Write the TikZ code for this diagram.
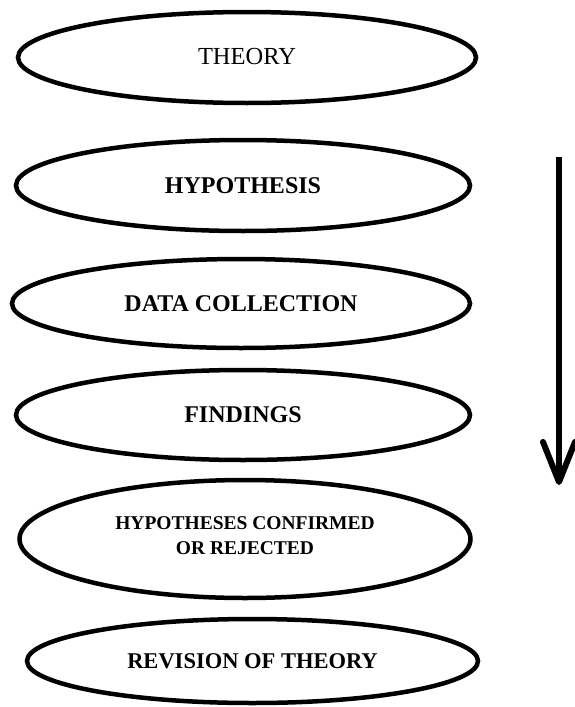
\documentclass[tikz,border=0pt]{standalone}
\usepackage{fontspec}
\setmainfont{Liberation Serif}
\usetikzlibrary{shapes.geometric,arrows.meta}
\begin{document}
\begin{tikzpicture}[x=1pt,y=-1pt,
  oval/.style={draw=black,line width=4.5pt,ellipse,inner sep=0pt,align=center},
  flowarrow/.style={line width=6pt,-{Straight Barb[length=40pt,width=32pt,line cap=round,round]}}]
\useasboundingbox (0,0) rectangle (574,707);
\node[oval,minimum width=458pt,minimum height=91pt,font=\fontsize{24.5}{28}\selectfont] (theory) at (247,57.5) {\raisebox{3pt}{THEORY}};
\node[oval,minimum width=454pt,minimum height=91pt,font=\fontsize{24}{28}\selectfont\bfseries] (hyp) at (243,185.5) {HYPOTHESIS};
\node[oval,minimum width=458pt,minimum height=89pt,font=\fontsize{24}{28}\selectfont\bfseries] (data) at (241,303.5) {DATA COLLECTION};
\node[oval,minimum width=454pt,minimum height=90pt,font=\fontsize{24}{28}\selectfont\bfseries] (find) at (243,415) {FINDINGS};
\node[oval,minimum width=451pt,minimum height=118pt,font=\fontsize{19.5}{25}\selectfont\bfseries] (conf) at (245,539) {\raisebox{6.5pt}{\shortstack{HYPOTHESES CONFIRMED\\[9pt]OR REJECTED}}};
\node[oval,minimum width=451pt,minimum height=84pt,font=\fontsize{22.5}{26}\selectfont\bfseries] (rev) at (252.5,661) {REVISION OF THEORY};
\coordinate (atop) at (559,157);
\coordinate (abot) at (559,485);
\draw[flowarrow] (atop) -- (abot);
\end{tikzpicture}
\end{document}
